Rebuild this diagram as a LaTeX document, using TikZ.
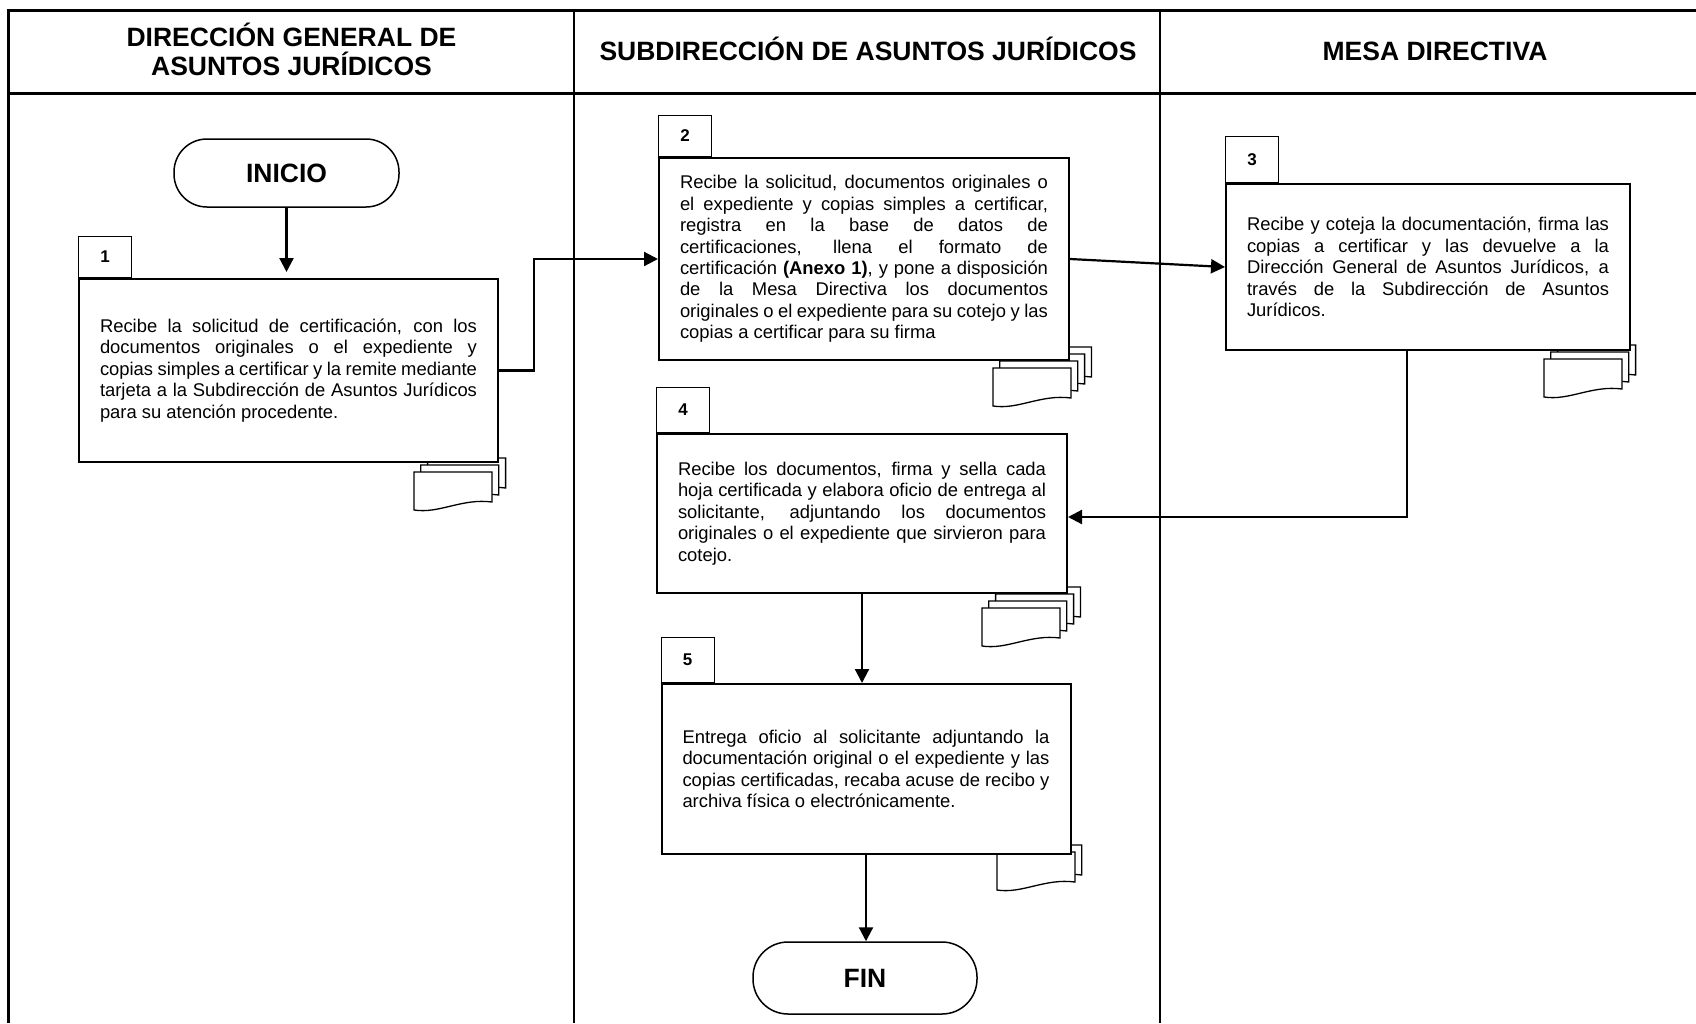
\documentclass[tikz,border=0pt]{standalone}
\usepackage{fontspec}
\setmainfont[Ligatures=CommonOff]{Liberation Sans}
\usetikzlibrary{arrows.meta}
\newcommand\resetsp{\spaceskip=0pt\xspaceskip=0pt\relax}
\newcommand\jl[2]{{\resetsp\makebox[#1][s]{#2}}}
\newcommand\docstack[3]{%
  \foreach \k in {#3,...,0}{%
    \pgfmathsetmacro\dx{#1+6.8*\k}\pgfmathsetmacro\dy{#2-7*\k}%
    \draw[docpage] (\dx,\dy) -- (\dx+78,\dy) -- (\dx+78,\dy+30)
      .. controls (\dx+48,\dy+26) and (\dx+25,\dy+42) .. (\dx,\dy+38) -- cycle;
  }%
}
\begin{document}
\begin{tikzpicture}[x=1pt,y=-1pt,
  lane/.style={line width=3pt},
  divider/.style={line width=2pt},
  hdr/.style={font=\fontsize{26.5}{29}\selectfont\bfseries, anchor=base, inner sep=0pt},
  term/.style={draw, line width=1.5pt, rounded corners=33pt, minimum width=225pt, minimum height=68pt, font=\fontsize{26.5}{29}\selectfont\bfseries, fill=white},
  stepbox/.style={draw, line width=2pt, fill=white, inner xsep=21pt, inner ysep=0pt, align=left, font=\fontsize{18.4}{21.4}\selectfont},
  numtab/.style={draw, line width=1.3pt, fill=white, minimum width=53pt, inner sep=0pt, font=\fontsize{17}{20}\selectfont\bfseries, anchor=south west},
  flow/.style={line width=2.2pt, -{Triangle[length=14pt,width=14pt]}},
  docpage/.style={draw, line width=1.3pt, fill=white}
]
\useasboundingbox[fill=white] (0,0) rectangle (1696,1023);

% swimlane frame
\draw[lane] (8.5,1023) -- (8.5,10.5) -- (1696,10.5);
\draw[lane] (8.5,93) -- (1696,93);
\draw[divider] (574,10.5) -- (574,1023);
\draw[divider] (1160,10.5) -- (1160,1023);

% headers
\node[hdr] (h1a) at (291.5,46.5) {DIRECCIÓN GENERAL DE};
\node[hdr] (h1b) at (291.5,75.5) {ASUNTOS JURÍDICOS};
\node[hdr] (h2) at (868,60.5) {SUBDIRECCIÓN DE ASUNTOS JURÍDICOS};
\node[hdr] (h3) at (1435,60.5) {MESA DIRECTIVA};

% document icons (behind boxes)
\docstack{414}{472}{2}
\docstack{993}{368}{3}
\docstack{1544}{359}{2}
\docstack{982}{608}{3}
\docstack{997}{852}{1}

% terminals
\node[term] (inicio) at (286.5,173) {INICIO};
\node[term, minimum width=224pt, minimum height=72pt, rounded corners=35pt] (fin) at (865,978) {FIN};

% process boxes
\node[stepbox, text width=377pt, minimum height=183pt] (b1) at (288.5,370.5) {\resetsp
\jl{377pt}{Recibe la solicitud de certificación, con los}\\
\jl{377pt}{documentos originales o el expediente y}\\
\jl{377pt}{copias simples a certificar y la remite mediante}\\
\jl{377pt}{tarjeta a la Subdirección de Asuntos Jurídicos}\\
para su atención procedente.};

\node[stepbox, text width=368pt, minimum height=202pt] (b2) at (864,259) {\resetsp
\jl{368pt}{Recibe la solicitud, documentos originales o}\\
\jl{368pt}{el expediente y copias simples a certificar,}\\
\jl{368pt}{registra en la base de datos de}\\
\jl{368pt}{certificaciones, llena el formato de}\\
\jl{368pt}{certificación \textbf{(Anexo 1)}, y pone a disposición}\\
\jl{368pt}{de la Mesa Directiva los documentos}\\
\jl{368pt}{originales o el expediente para su cotejo y las}\\
copias a certificar para su firma};

\node[stepbox, text width=362pt, minimum height=166pt] (b3) at (1428,267) {\resetsp
\jl{362pt}{Recibe y coteja la documentación, firma las}\\
\jl{362pt}{copias a certificar y las devuelve a la}\\
\jl{362pt}{Dirección General de Asuntos Jurídicos, a}\\
\jl{362pt}{través de la Subdirección de Asuntos}\\
Jurídicos.};

\node[stepbox, text width=368pt, minimum height=159pt] (b4) at (862,513.5) {\resetsp
\jl{368pt}{Recibe los documentos, firma y sella cada}\\
\jl{368pt}{hoja certificada y elabora oficio de entrega al}\\
\jl{368pt}{solicitante, adjuntando los documentos}\\
\jl{368pt}{originales o el expediente que sirvieron para}\\
cotejo.};

\node[stepbox, text width=367pt, minimum height=170pt] (b5) at (866,769) {\resetsp
\jl{367pt}{Entrega oficio al solicitante adjuntando la}\\
\jl{367pt}{documentación original o el expediente y las}\\
\jl{367pt}{copias certificadas, recaba acuse de recibo y}\\
archiva física o electrónicamente.};

% number tabs
\node[numtab, minimum height=41pt] (t1) at (b1.north west) {1};
\node[numtab, minimum height=41pt] (t2) at (b2.north west) {2};
\node[numtab, minimum height=46pt] (t3) at (b3.north west) {3};
\node[numtab, minimum height=45pt] (t4) at (b4.north west) {4};
\node[numtab, minimum height=45pt] (t5) at (b5.north west) {5};

% connectors
\draw[flow, shorten >=6pt] (inicio.south) -- (inicio.south |- b1.north);
\draw[flow] (b1.east) -- ++(35,0) |- (b2.west);
\draw[flow] (b2.east) -- (b3.west);
\draw[flow] ([xshift=-21pt]b3.south) |- ([yshift=-3.5pt]b4.east);
\draw[flow] (b4.south) -- (b4.south |- b5.north);
\draw[flow] (b5.south) -- (b5.south |- fin.north);
\end{tikzpicture}
\end{document}
